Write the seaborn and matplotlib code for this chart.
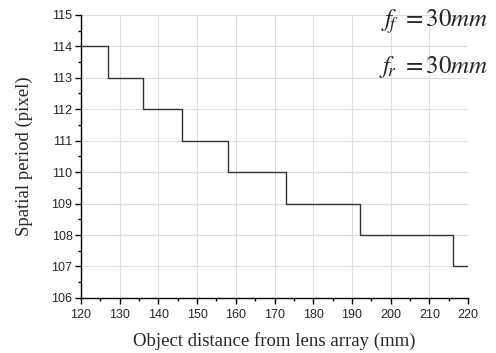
import matplotlib
matplotlib.use("Agg")
import matplotlib.pyplot as plt
import seaborn as sns
import pandas as pd
from matplotlib.ticker import MultipleLocator

distance = [120, 127, 136, 146, 158, 173, 192, 216, 220]
period = [114, 113, 112, 111, 110, 109, 108, 107, 107]

df = pd.DataFrame({"distance": distance, "period": period})

sns.set_style("white")
plt.rcParams["font.family"] = ["Liberation Sans", "DejaVu Sans"]
plt.rcParams["mathtext.fontset"] = "stix"

fig = plt.figure(figsize=(4.96, 3.53), dpi=100)
ax = fig.add_axes([0.163, 0.156, 0.781, 0.802])

sns.lineplot(data=df, x="distance", y="period", drawstyle="steps-post",
             color="#333333", linewidth=1.0, ax=ax, zorder=3)

ax.set_xlim(120, 220)
ax.set_ylim(106, 115)
ax.xaxis.set_major_locator(MultipleLocator(10))
ax.xaxis.set_minor_locator(MultipleLocator(5))
ax.yaxis.set_major_locator(MultipleLocator(1))
ax.yaxis.set_minor_locator(MultipleLocator(0.5))
ax.grid(True, which="major", color="#dddddd", linewidth=0.8, zorder=0)
ax.set_axisbelow(True)

for s in ["top", "right"]:
    ax.spines[s].set_visible(False)
for s in ["left", "bottom"]:
    ax.spines[s].set_color("black")
    ax.spines[s].set_linewidth(1.0)

ax.tick_params(axis="both", which="major", direction="out", length=4, width=1,
               labelsize=9, color="black", bottom=True, left=True)
ax.tick_params(axis="x", which="major", pad=4)
ax.tick_params(axis="y", which="major", pad=2)
ax.tick_params(axis="both", which="minor", direction="out", length=2.5, width=1,
               color="black", bottom=True, left=True)

ax.set_xlabel("Object distance from lens array (mm)", fontsize=13.5,
              family="Liberation Serif", labelpad=8)
ax.set_ylabel("Spatial period (pixel)", fontsize=13.5,
              family="Liberation Serif", labelpad=13)

fig.text(0.985, 0.940, r"$f_{\!f}\ =30mm$", ha="right", va="center", fontsize=18)
fig.text(0.985, 0.810, r"$f_{\!r}\ =30mm$", ha="right", va="center", fontsize=18)

fig.savefig("out.png", dpi=100)
